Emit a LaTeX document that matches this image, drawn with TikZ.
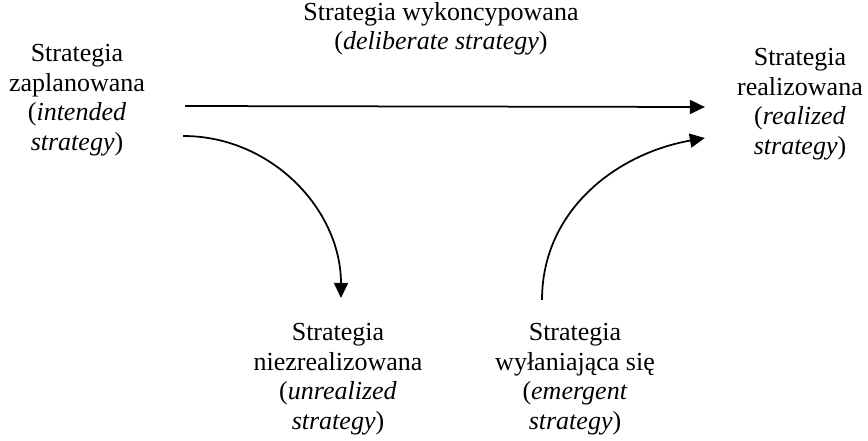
\documentclass[tikz,border=0pt]{standalone}
\usepackage{fontspec}
\setmainfont{Liberation Serif}
\usetikzlibrary{arrows.meta}

\begin{document}
\begin{tikzpicture}
        [x=0.02cm, y=-0.02cm,
        every node/.style={align=center, inner sep=0pt,
          font=\fontsize{14.8}{16.8}\selectfont},
        flow/.style={-{Triangle[length=0.3cm,width=0.28cm]}, line width=0.035cm}]

    \useasboundingbox (0,0) rectangle (868,440);

    \node (deliberate) at (441,29) {Strategia wykoncypowana\\(\textit{deliberate strategy})};
    \node (intended) at (77,100) {Strategia\\zaplanowana\\(\textit{intended}\\\textit{strategy})};
    \node (realized) at (800,104) {Strategia\\realizowana\\(\textit{realized}\\\textit{strategy})};
    \node (unrealized) at (338,379) {Strategia\\niezrealizowana\\(\textit{unrealized}\\\textit{strategy})};
    \node (emergent) at (575,379) {Strategia\\wyłaniająca się\\(\textit{emergent}\\\textit{strategy})};

    \draw[flow] ([xshift=0.8cm,yshift=-0.12cm]intended.east)
      -- ([xshift=-0.64cm,yshift=-0.06cm]realized.west);
    \draw[flow] ([xshift=0.76cm,yshift=-0.72cm]intended.east)
      to[out=0, in=90] ([xshift=0.06cm,yshift=0.5cm]unrealized.north);
    \draw[flow] ([xshift=-0.66cm,yshift=0.46cm]emergent.north)
      to[out=90, in=190] ([xshift=-0.64cm,yshift=-0.68cm]realized.west);
\end{tikzpicture}
\end{document}
